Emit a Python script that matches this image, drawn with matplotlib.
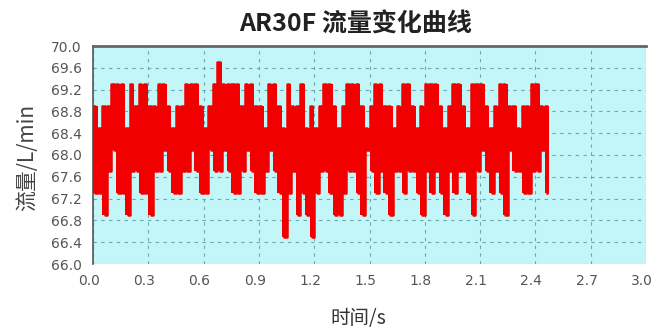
import numpy as np
import matplotlib.pyplot as plt
import matplotlib.transforms as mtransforms

plt.rcParams['font.family'] = ['Noto Sans CJK SC', 'DejaVu Sans']
plt.rcParams['path.simplify'] = False

# flow samples, one high and one low value per 0.025 s
peaks = [68.9, 68.5, 68.9, 68.9, 69.3, 69.3, 69.3, 68.5, 69.3, 68.9,
         69.3, 69.3, 68.9, 68.9, 69.3, 69.3, 68.9, 68.5, 68.9, 68.9,
         69.3, 69.3, 69.3, 68.9, 68.5, 68.9, 69.3, 69.7, 69.3, 69.3,
         69.3, 69.3, 68.9, 69.3, 69.3, 68.9, 68.9, 68.5, 69.3, 69.3,
         68.9, 68.5, 69.3, 68.9, 68.9, 69.3, 68.5, 68.9, 68.5, 68.9,
         69.3, 69.3, 68.9, 68.5, 68.9, 69.3, 69.3, 69.3, 68.9, 68.5,
         68.9, 69.3, 69.3, 68.9, 68.9, 68.5, 68.9, 69.3, 69.3, 68.9,
         68.5, 68.9, 69.3, 69.3, 69.3, 68.9, 68.5, 68.9, 69.3, 69.3,
         68.9, 68.5, 69.3, 69.3, 69.3, 68.9, 68.5, 68.9, 69.3, 69.3,
         68.9, 68.9, 68.5, 68.9, 68.9, 69.3, 69.3, 68.9, 68.9]
troughs = [67.3, 67.3, 66.9, 67.7, 68.1, 67.3, 67.3, 66.9, 67.7, 67.7,
           67.3, 67.3, 66.9, 67.7, 67.7, 68.1, 67.7, 67.3, 67.3, 67.7,
           67.7, 68.1, 67.7, 67.3, 67.3, 68.1, 67.7, 67.7, 68.1, 67.7,
           67.3, 67.3, 67.7, 68.1, 67.7, 67.3, 67.3, 67.7, 68.1, 67.7,
           67.3, 66.5, 67.3, 67.7, 66.9, 67.3, 66.9, 66.5, 67.3, 67.7,
           67.7, 67.3, 66.9, 66.9, 67.3, 67.7, 67.7, 67.3, 66.9, 68.1,
           67.7, 67.3, 67.7, 67.3, 66.9, 67.7, 67.7, 67.3, 67.7, 67.7,
           67.3, 66.9, 67.7, 67.3, 67.7, 67.3, 66.9, 67.7, 67.3, 67.7,
           67.7, 67.3, 66.9, 67.7, 68.1, 67.7, 67.3, 67.7, 67.3, 66.9,
           68.1, 67.7, 67.7, 67.3, 67.3, 67.7, 67.7, 68.1, 67.3]
dt = 0.0125

yticks = np.arange(66.0, 70.01, 0.4)
xticks = np.arange(0.0, 3.01, 0.3)

flow = np.column_stack([peaks, troughs]).ravel()
t = np.arange(len(flow)) * dt
tp = t[::2]

fig = plt.figure(figsize=(6.59, 3.29), dpi=100)
ax = fig.add_axes([93/659, 1-264/329, 553/659, 218/329])
ax.set_facecolor('#c2f6f8')

# dense signal: solid band between the low and high of each sample pair
ax.fill_between(np.append(tp, tp[-1] + 2*dt), np.append(troughs, troughs[-1]),
                np.append(peaks, peaks[-1]), step='post', color='#f20000',
                lw=0, zorder=3)
ax.step(t, flow, where='post', color='#f20000', lw=1.8, zorder=3)

ax.set_xlim(0, 3.0)
ax.set_ylim(66.0, 70.0)
ax.set_xticks(xticks)
ax.set_yticks(yticks)
ax.set_xticklabels(['%.1f' % v for v in xticks], family='DejaVu Sans')
ax.set_yticklabels(['%.1f' % v for v in yticks], family='DejaVu Sans')
ax.tick_params(length=0, labelsize=10, labelcolor='#555555')
ax.tick_params(axis='y', pad=8)
ax.tick_params(axis='x', pad=7)
shift = mtransforms.ScaledTranslation(-4/100, 0, fig.dpi_scale_trans)
for lab in ax.get_xticklabels():
    lab.set_transform(lab.get_transform() + shift)
ax.grid(True, color='#6fa6a8', linestyle=(0, (3, 4)), lw=0.8)
ax.set_axisbelow(True)

for s in ['right', 'bottom']:
    ax.spines[s].set_visible(False)
ax.spines['top'].set_color('#666666')
ax.spines['top'].set_linewidth(2)
ax.spines['left'].set_color('#555555')
ax.spines['left'].set_linewidth(1.2)

ax.set_title('AR30F 流量变化曲线', fontsize=18, fontweight='bold', color='#222222',
             pad=10, x=0.474)
ax.set_xlabel('时间/s', fontsize=14, color='#333333')
ax.xaxis.set_label_coords(0.48, -0.2)
ax.set_ylabel('流量/L/min', fontsize=15, color='#444444')
ax.yaxis.set_label_coords(-0.1, 0.49)

fig.savefig('out.png', dpi=100)
